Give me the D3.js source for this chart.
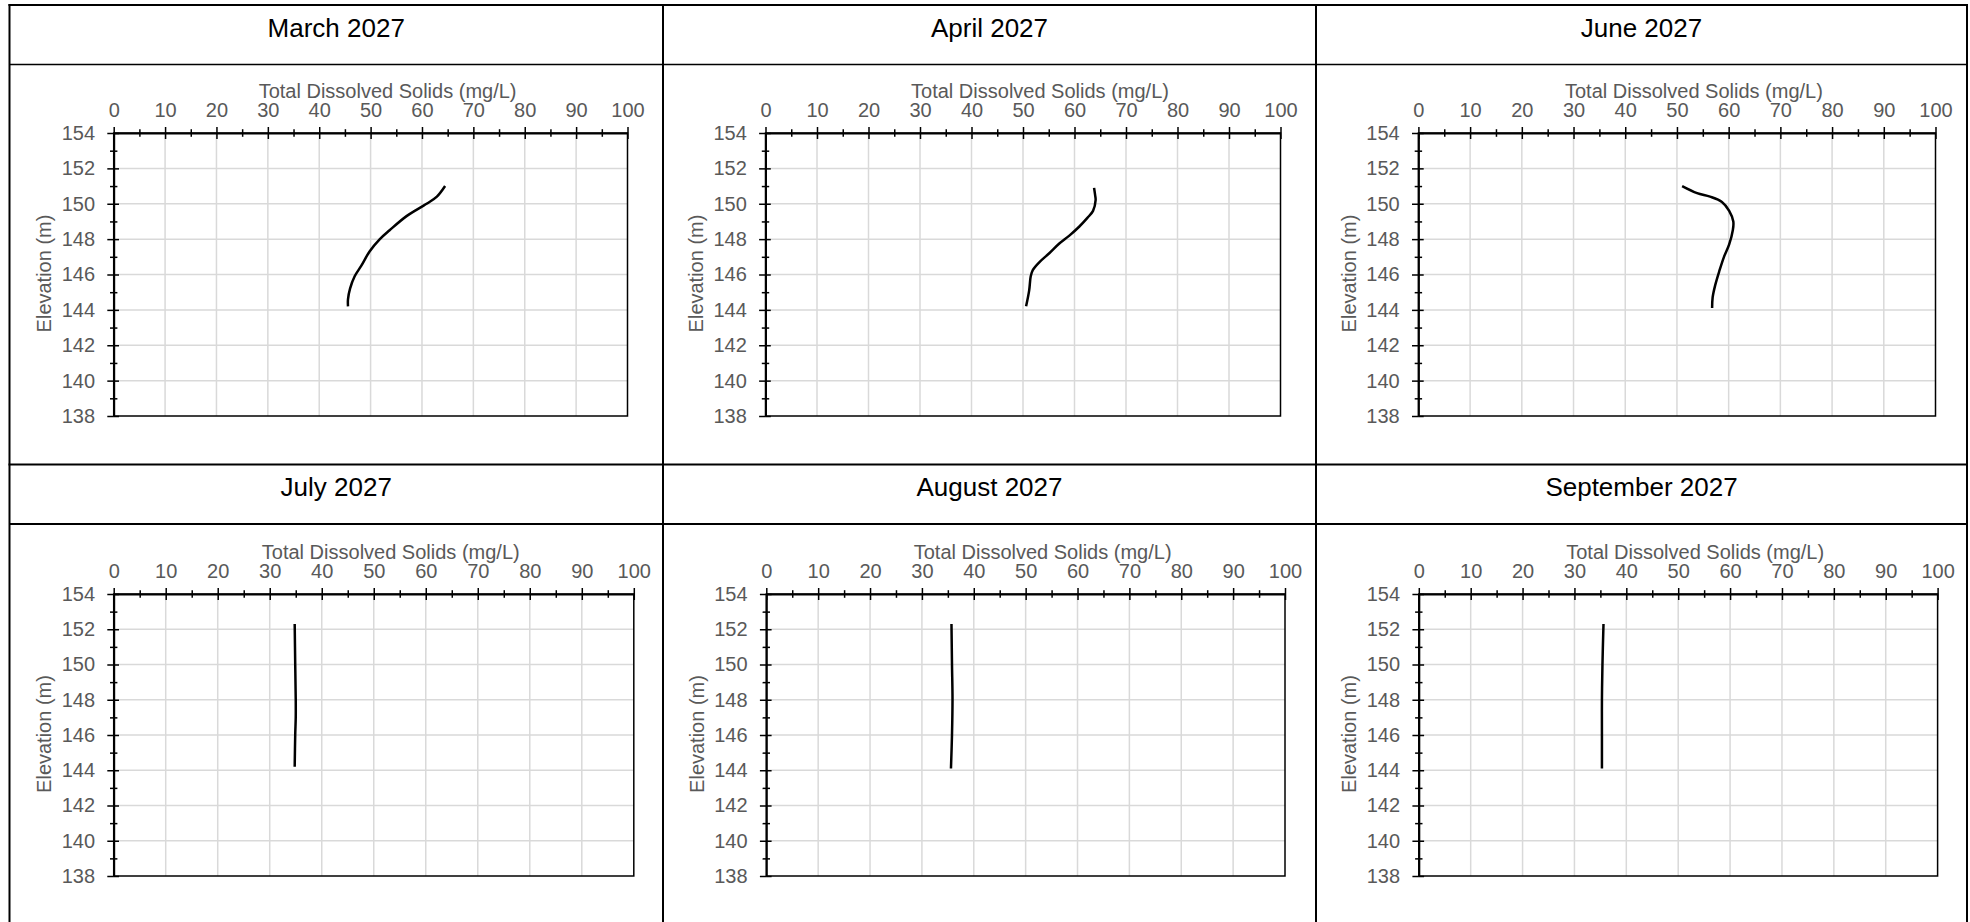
<!DOCTYPE html>
<html>
<head>
<meta charset="utf-8">
<script src="https://cdn.jsdelivr.net/npm/d3@7"></script>
<style>
    body { margin: 0; background: #fff; }
    text { font-family: "Liberation Sans", Arial, sans-serif; }
</style>
</head>
<body>
<div id="chart"></div>
<script>
// Profile data: elevation (m) and TDS (mg/L)
const months = ["March 2027", "April 2027", "June 2027", "July 2027", "August 2027", "September 2027"];

const marchElev = [151.0, 150.4, 150.0, 149.3, 148.5, 148.0, 147.3, 146.5, 145.9, 145.2, 144.6, 144.2];
const marchTds  = [64.5, 62.9, 60.9, 57.0, 53.7, 51.8, 49.8, 48.2, 46.9, 46.0, 45.6, 45.6];

const aprilElev = [150.9, 150.5, 150.2, 149.6, 149.2, 148.7, 148.2, 147.75, 147.2, 146.7, 146.25, 145.9, 145.1, 144.2];
const aprilTds  = [63.8, 64.0, 64.1, 63.6, 62.5, 60.9, 59.0, 57.05, 55.1, 53.2, 51.9, 51.5, 51.2, 50.6];

const juneElev = [151.0, 150.6, 150.4, 150.1, 149.6, 149.0, 148.5, 147.7, 147.0, 146.2, 145.4, 144.7, 144.1];
const juneTds  = [51.0, 53.9, 56.4, 58.7, 60.1, 60.9, 60.8, 60.1, 59.1, 58.2, 57.4, 56.9, 56.8];

const julyElev = [152.3, 150.0, 148.0, 147.0, 146.0, 144.2];
const julyTds  = [34.8, 34.9, 35.0, 35.0, 34.9, 34.8];

const augustElev = [152.3, 150.0, 148.0, 146.0, 144.1];
const augustTds  = [35.7, 35.8, 35.9, 35.8, 35.6];

const septemberElev = [152.3, 150.0, 148.0, 146.0, 144.1];
const septemberTds  = [35.6, 35.4, 35.3, 35.3, 35.3];

const tdsTicks = [0, 10, 20, 30, 40, 50, 60, 70, 80, 90, 100];
const tdsMinorTicks = [5, 15, 25, 35, 45, 55, 65, 75, 85, 95];
const elevTicks = [138, 140, 142, 144, 146, 148, 150, 152, 154];
const elevMinorTicks = [139, 141, 143, 145, 147, 149, 151, 153];

const profiles = [
    [marchElev, marchTds], [aprilElev, aprilTds], [juneElev, juneTds],
    [julyElev, julyTds], [augustElev, augustTds], [septemberElev, septemberTds]
];

// Table and plot layout
const colEdges = [9.5, 663, 1316, 1967];
const rowTops = [5, 464.5];
const headerHeight = 59.5;
const plotBoxes = [
    { x0: 113.7, x1: 627.5, y0: 133, y1: 416 },
    { x0: 765.5, x1: 1280.5, y0: 133, y1: 416 },
    { x0: 1418.4, x1: 1935.5, y0: 133, y1: 416 },
    { x0: 113.7, x1: 633.8, y0: 594, y1: 876 },
    { x0: 766.3, x1: 1285, y0: 594, y1: 876 },
    { x0: 1418.8, x1: 1937.6, y0: 594, y1: 876 }
];

const grey = "#595959";

const svg = d3.select("#chart").append("svg")
    .attr("width", 1970)
    .attr("height", 922);

// Table borders
const table = svg.append("g").attr("stroke", "#000").attr("fill", "none");
colEdges.forEach(x => {
    table.append("line").attr("x1", x).attr("x2", x).attr("y1", rowTops[0] - 1).attr("y2", 922)
        .attr("stroke-width", 2);
});
rowTops.forEach((y, i) => {
    table.append("line").attr("x1", colEdges[0] - 1).attr("x2", colEdges[3] + 1).attr("y1", y).attr("y2", y)
        .attr("stroke-width", 2);
    table.append("line").attr("x1", colEdges[0]).attr("x2", colEdges[3]).attr("y1", y + headerHeight).attr("y2", y + headerHeight)
        .attr("stroke-width", i === 0 ? 1.4 : 2);
});

months.forEach((month, i) => {
    const col = i % 3, row = Math.floor(i / 3);
    const box = plotBoxes[i];
    const [elev, tds] = profiles[i];

    // Header cell
    svg.append("text")
        .attr("x", (colEdges[col] + colEdges[col + 1]) / 2)
        .attr("y", rowTops[row] + 31.7)
        .attr("text-anchor", "middle")
        .attr("font-size", 26)
        .attr("fill", "#000")
        .text(month);

    const x = d3.scaleLinear().domain([0, 100]).range([box.x0, box.x1]);
    const y = d3.scaleLinear().domain([138, 154]).range([box.y1, box.y0]);

    const g = svg.append("g");

    // Gridlines
    g.append("g").selectAll("line")
        .data(tdsTicks.slice(1, -1))
        .join("line")
        .attr("x1", d => x(d)).attr("x2", d => x(d))
        .attr("y1", box.y0).attr("y2", box.y1)
        .attr("stroke", "#d9d9d9").attr("stroke-width", 1.5);
    g.append("g").selectAll("line")
        .data(elevTicks.slice(1, -1))
        .join("line")
        .attr("x1", box.x0).attr("x2", box.x1)
        .attr("y1", d => y(d)).attr("y2", d => y(d))
        .attr("stroke", "#d9d9d9").attr("stroke-width", 1.5);

    // Plot frame
    g.append("rect")
        .attr("x", box.x0).attr("y", box.y0)
        .attr("width", box.x1 - box.x0).attr("height", box.y1 - box.y0)
        .attr("fill", "none").attr("stroke", "#000").attr("stroke-width", 1.5);

    // Top axis: labels + crossing ticks
    const xTop = g.append("g")
        .attr("transform", `translate(0,${box.y0})`)
        .call(d3.axisTop(x).tickValues(tdsTicks).tickSize(6).tickSizeOuter(0).tickPadding(10.5));
    xTop.select(".domain").attr("stroke-width", 2);
    g.append("g").attr("transform", `translate(0,${box.y0})`)
        .call(d3.axisBottom(x).tickValues(tdsTicks).tickSize(6).tickFormat(""))
        .call(a => a.select(".domain").remove());
    [d3.axisTop, d3.axisBottom].forEach(axisFn => {
        g.append("g").attr("transform", `translate(0,${box.y0})`)
            .call(axisFn(x).tickValues(tdsMinorTicks).tickSize(3.8).tickFormat(""))
            .call(a => a.select(".domain").remove());
    });

    // Left axis: labels + crossing ticks
    const yLeft = g.append("g")
        .attr("transform", `translate(${box.x0},0)`)
        .call(d3.axisLeft(y).tickValues(elevTicks).tickSize(6.4).tickSizeOuter(0).tickPadding(12.3));
    yLeft.select(".domain").attr("stroke-width", 2);
    g.append("g").attr("transform", `translate(${box.x0},0)`)
        .call(d3.axisRight(y).tickValues(elevTicks).tickSize(5.3).tickFormat(""))
        .call(a => a.select(".domain").remove());
    [d3.axisLeft, d3.axisRight].forEach(axisFn => {
        g.append("g").attr("transform", `translate(${box.x0},0)`)
            .call(axisFn(y).tickValues(elevMinorTicks).tickSize(3.7).tickFormat(""))
            .call(a => a.select(".domain").remove());
    });

    g.selectAll(".tick line").attr("stroke", "#000").attr("stroke-width", 1.5);
    g.selectAll(".tick text")
        .attr("font-size", 20)
        .attr("font-family", "'Liberation Sans', Arial, sans-serif")
        .attr("fill", grey);

    // Axis titles
    g.append("text")
        .attr("x", (box.x0 + box.x1) / 2 + 17)
        .attr("y", box.y0 - 35)
        .attr("text-anchor", "middle")
        .attr("font-size", 20)
        .attr("fill", grey)
        .text("Total Dissolved Solids (mg/L)");
    g.append("text")
        .attr("transform", `translate(${box.x0 - 62.5},${(box.y0 + box.y1) / 2 - 1}) rotate(-90)`)
        .attr("text-anchor", "middle")
        .attr("font-size", 20)
        .attr("fill", grey)
        .text("Elevation (m)");

    // Profile line
    const line = d3.line()
        .x(d => x(d[1]))
        .y(d => y(d[0]))
        .curve(d3.curveCatmullRom.alpha(0.5));
    g.append("path")
        .datum(elev.map((e, k) => [e, tds[k]]))
        .attr("d", line)
        .attr("fill", "none")
        .attr("stroke", "#000")
        .attr("stroke-width", 2.5);
});
</script>
</body>
</html>
